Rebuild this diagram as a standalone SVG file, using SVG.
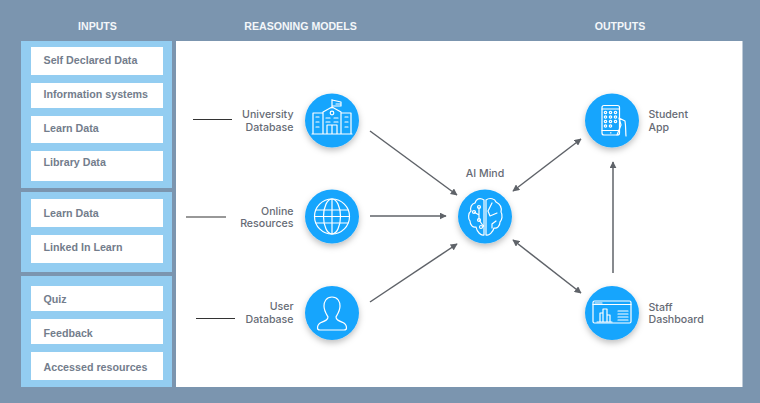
<svg xmlns="http://www.w3.org/2000/svg" width="760" height="403" viewBox="0 0 760 403">
<style>
.h{font:bold 10.6px "Liberation Sans",Arial,sans-serif;fill:#f4f7fa;text-anchor:middle}
.p{fill:#93cdf1}
.b{fill:#fff}
.t{font:bold 10.7px "Liberation Sans",Arial,sans-serif;fill:#737d8c}
.l{font:500 10.6px Inter,"Noto Sans",sans-serif;fill:#666b75}
.e{text-anchor:end}
.c{fill:#19a5fd;filter:url(#s)}
.i{fill:none;stroke:#fff;stroke-width:1.2;stroke-linejoin:round;stroke-linecap:round}
.a{stroke:#5f6369;stroke-width:1.5;fill:none}
.k{stroke:#333;stroke-width:1.2;fill:none}
</style>
<defs>
<filter id="s" x="-30%" y="-30%" width="160%" height="170%"><feDropShadow dx="0" dy="3" stdDeviation="3" flood-color="#000" flood-opacity=".25"/></filter>
<marker id="ae" viewBox="0 0 10 10" refX="9" refY="5" markerWidth="7" markerHeight="7" markerUnits="userSpaceOnUse" orient="auto-start-reverse"><path d="M0 0L10 5L0 10z" fill="#5f6369"/></marker>
</defs>
<rect width="760" height="403" fill="#7b95af"/>
<text class="h" x="97.500" y="30">INPUTS</text>
<text class="h" x="300.500" y="30">REASONING MODELS</text>
<text class="h" x="620" y="30">OUTPUTS</text>
<rect x="176" y="41" width="566.500" height="346" fill="#fff"/>
<g id="inputs-1">
<rect class="p" x="21" y="41" width="151" height="147"/>
<rect class="b" x="31" y="47" width="132" height="28"/><text class="t" x="43.500" y="64">Self Declared Data</text>
<rect class="b" x="31" y="83" width="132" height="25"/><text class="t" x="43.500" y="98">Information systems</text>
<rect class="b" x="31" y="116" width="132" height="27"/><text class="t" x="43.500" y="132">Learn Data</text>
<rect class="b" x="31" y="151" width="132" height="30"/><text class="t" x="43.500" y="166">Library Data</text>
</g>
<g id="inputs-2">
<rect class="p" x="21" y="192" width="151" height="80"/>
<rect class="b" x="31" y="199" width="132" height="28"/><text class="t" x="43.500" y="217">Learn Data</text>
<rect class="b" x="31" y="235" width="132" height="28"/><text class="t" x="43.500" y="251">Linked In Learn</text>
</g>
<g id="inputs-3">
<rect class="p" x="21" y="276" width="151" height="111"/>
<rect class="b" x="31" y="286" width="132" height="25"/><text class="t" x="43.500" y="303">Quiz</text>
<rect class="b" x="31" y="319" width="132" height="25"/><text class="t" x="43.500" y="337">Feedback</text>
<rect class="b" x="31" y="352" width="132" height="28"/><text class="t" x="43.500" y="371">Accessed resources</text>
</g>
<g id="connectors">
<path class="k" d="M193 119.500H232M186 217H226M196 318.500H235"/>
<path class="a" d="M370 131L457 195" marker-end="url(#ae)"/>
<path class="a" d="M370 216H446" marker-end="url(#ae)"/>
<path class="a" d="M370 302L457 244" marker-end="url(#ae)"/>
<path class="a" d="M513 191L581 139" marker-start="url(#ae)" marker-end="url(#ae)"/>
<path class="a" d="M513 240L581 293" marker-start="url(#ae)" marker-end="url(#ae)"/>
<path class="a" d="M613 273V162" marker-end="url(#ae)"/>
</g>
<g id="university">
<text class="l e" x="293.500" y="118">University</text><text class="l e" x="293.500" y="131">Database</text>
<circle class="c" cx="332" cy="120.500" r="27"/>
<path class="i" d="M332 108V99.500M332 100L341 102V106H332M336 104H340M313 113H323V134H313ZM341 113H351V134H341ZM323 134V112L332 107L341 112V134ZM316 117H319M316 122H319M316 127H319M345 117H348M345 122H348M345 127H348M326 118H330M334 118H338M326 122H330M334 122H338M327 134V125H337V134M332 125V134M312 134H352"/>
<circle class="i" cx="332" cy="113" r="1.800"/>
</g>
<g id="online">
<text class="l e" x="293.500" y="214.500">Online</text><text class="l e" x="293.500" y="227">Resources</text>
<circle class="c" cx="332" cy="216.500" r="27"/>
<circle class="i" cx="332" cy="216.500" r="17.500"/>
<ellipse class="i" cx="332" cy="216.500" rx="8.500" ry="17.500"/>
<path class="i" d="M332 199V234M316 210H348M316 223H348M314.500 216.500H349.500"/>
</g>
<g id="user">
<text class="l e" x="293.500" y="310">User</text><text class="l e" x="293.500" y="323">Database</text>
<circle class="c" cx="332" cy="313" r="27"/>
<path class="i" d="M332 297C338 297 340 302 340 306C340 311 337 315 336 317C336 320 339 321 343 322.500C346 324 346.500 326 346.500 328C346.500 329.500 345 330 344 330H320C319 330 317.500 329.500 317.500 328C317.500 326 318 324 321 322.500C325 321 328 320 328 317C327 315 324 311 324 306C324 302 326 297 332 297Z"/>
</g>
<g id="ai-mind">
<text class="l" x="485" y="177" text-anchor="middle">AI Mind</text>
<circle class="c" cx="485" cy="216.500" r="27"/>
<path class="i" d="M484 200C480 197 476 199 475 203C471 204 470 208 471 211C468 213 468 219 470 221C470 225 473 228 476 227C477 232 481 236 484 235ZM484 200V235M486 200C490 197 495 199 496 202C500 204 502 208 501 212C503 215 502 220 500 222C500 226 497 229 494 228C493 232 489 236 486 235ZM486 200V235M492 203L488 211L490 216L497 213M479 207V220L484 227M474 212L479 215M492 228V224L496 221"/>
<circle class="i" cx="479" cy="207" r="1.500"/><circle class="i" cx="474" cy="212" r="1.500"/><circle class="i" cx="479" cy="220" r="1.500"/><circle class="i" cx="481" cy="227" r="1.500"/>
</g>
<g id="student-app">
<circle class="c" cx="612" cy="120.500" r="27"/>
<rect class="i" x="602" y="105.500" width="17.500" height="29.500" rx="2"/>
<path class="i" d="M602 109H619.500M602 130.500H619.500M610.500 132.800H611M617 135L621 125L619 118L625 121C626 127 625.500 131 626 136"/>
<g class="i" stroke-width="1"><circle cx="605.500" cy="112.500" r="1.200"/><circle cx="610.500" cy="112.500" r="1.200"/><circle cx="615.500" cy="112.500" r="1.200"/><circle cx="605.500" cy="117" r="1.200"/><circle cx="610.500" cy="117" r="1.200"/><circle cx="615.500" cy="117" r="1.200"/><circle cx="605.500" cy="121.500" r="1.200"/><circle cx="610.500" cy="121.500" r="1.200"/><circle cx="615.500" cy="121.500" r="1.200"/><circle cx="605.500" cy="126" r="1.200"/><circle cx="610.500" cy="126" r="1.200"/></g>
<text class="l" x="648.500" y="118">Student</text><text class="l" x="648.500" y="131">App</text>
</g>
<g id="staff-dashboard">
<circle class="c" cx="612" cy="313" r="27"/>
<rect class="i" x="593" y="301" width="38" height="22" rx="1.500"/>
<path class="i" d="M593 304.500H631M595 303H602M600 322V313H603V322M603 322V309H607V322M607 322V315H610V322M597 322H612M618 311H628M618 314H628M618 317H628M618 320H628"/>
<text class="l" x="648.500" y="310.500">Staff</text><text class="l" x="648.500" y="323">Dashboard</text>
</g>
</svg>
